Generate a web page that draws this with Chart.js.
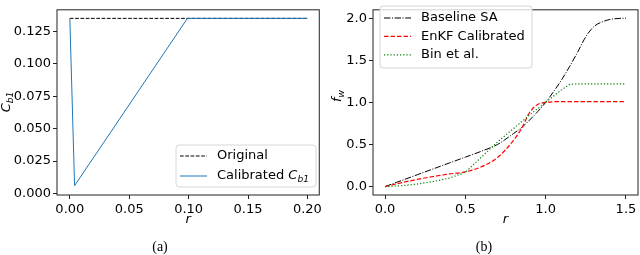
<!DOCTYPE html>
<html>
<head>
<meta charset="utf-8">
<script src="https://cdn.jsdelivr.net/npm/chart.js@4.4.0/dist/chart.umd.min.js"></script>
<style>
  body { margin: 0; background: #fff; width: 640px; height: 255px; overflow: hidden; position: relative; }
  canvas { position: absolute; top: 0; }
  .cap { position: absolute; top: 239px; width: 40px; text-align: center; font: 14px "Liberation Serif", serif; color: #000; }
</style>
</head>
<body>
<canvas id="chartA" width="325" height="255" style="left:0"></canvas>
<canvas id="chartB" width="315" height="255" style="left:325px"></canvas>
<div class="cap" style="left:140px">(a)</div>
<div class="cap" style="left:464px">(b)</div>
<script>
// (a) C_b1 against r
const rOriginal = [0, 0.2];
const cb1Original = [0.135, 0.135];
const rCalibrated = [0, 0.004, 0.099, 0.2];
const cb1Calibrated = [0.135, 0.006, 0.135, 0.135];
const ticksAx = [0, 0.05, 0.1, 0.15, 0.2];
const ticksAy = [0, 0.025, 0.05, 0.075, 0.1, 0.125];

// (b) f_w against r
const rB = [0, 0.1, 0.2, 0.3, 0.4, 0.5, 0.6, 0.7, 0.8, 0.85, 0.9, 0.95, 1.0, 1.05, 1.1, 1.15, 1.2, 1.25, 1.3, 1.35, 1.4, 1.45, 1.5];
const fwBaseline = [0, 0.07, 0.14, 0.21, 0.28, 0.35, 0.42, 0.5, 0.63, 0.7, 0.79, 0.89, 1.0, 1.13, 1.27, 1.43, 1.6, 1.78, 1.9, 1.955, 1.985, 1.997, 2.0];
const fwEnKF = [0, 0.045, 0.085, 0.12, 0.15, 0.175, 0.235, 0.345, 0.55, 0.69, 0.88, 0.975, 1.0, 1.008, 1.01, 1.01, 1.01, 1.01, 1.01, 1.01, 1.01, 1.01, 1.01];
const fwBin = [0, 0.01, 0.03, 0.06, 0.1, 0.17, 0.35, 0.53, 0.69, 0.77, 0.85, 0.925, 1.0, 1.075, 1.15, 1.215, 1.22, 1.22, 1.22, 1.22, 1.22, 1.22, 1.22];
const ticksBx = [0, 0.5, 1.0, 1.5];
const ticksBy = [0, 0.5, 1.0, 1.5, 2.0];

const FONT = '"DejaVu Sans", sans-serif';
const pts = (xs, ys) => xs.map((x, i) => ({ x: x, y: ys[i] }));

function richWidth(ctx, parts, size) {
  let w = 0;
  for (const p of parts) {
    ctx.font = (p.it ? 'italic ' : '') + (p.sub ? size * 0.7 : size) + 'px ' + FONT;
    w += ctx.measureText(p.t).width;
  }
  return w;
}

function richText(ctx, parts, x, y, size) {
  let cx = x;
  ctx.textBaseline = 'middle';
  ctx.textAlign = 'left';
  for (const p of parts) {
    ctx.font = (p.it ? 'italic ' : '') + (p.sub ? size * 0.7 : size) + 'px ' + FONT;
    ctx.fillText(p.t, cx, y + (p.sub ? size * 0.28 : 0));
    cx += ctx.measureText(p.t).width;
  }
}

const decor = {
  id: 'decor',
  afterDraw(chart, args, o) {
    const { ctx, chartArea: a } = chart;
    ctx.save();
    ctx.strokeStyle = '#222';
    ctx.lineWidth = 1;
    ctx.strokeRect(a.left, a.top, a.right - a.left, a.bottom - a.top);
    ctx.fillStyle = '#000';

    // rotated y title
    const t = o.yTitle;
    ctx.save();
    ctx.translate(t.x, t.y);
    ctx.rotate(-Math.PI / 2);
    richText(ctx, t.parts, -richWidth(ctx, t.parts, 13) / 2, 0, 13);
    ctx.restore();

    // legend
    const L = o.legend;
    ctx.beginPath();
    ctx.roundRect(L.x, L.y, L.w, L.h, 3);
    ctx.fillStyle = 'rgba(255,255,255,0.8)';
    ctx.fill();
    ctx.strokeStyle = '#d6d6d6';
    ctx.lineWidth = 1;
    ctx.stroke();
    L.items.forEach((it, i) => {
      const ds = chart.data.datasets[it.ds];
      const yy = L.y + L.first + i * L.row;
      ctx.save();
      ctx.strokeStyle = ds.borderColor;
      ctx.lineWidth = ds.borderWidth;
      ctx.setLineDash(ds.borderDash || []);
      ctx.beginPath();
      ctx.moveTo(L.x + 4, yy);
      ctx.lineTo(L.x + 31, yy);
      ctx.stroke();
      ctx.restore();
      ctx.fillStyle = '#000';
      richText(ctx, it.parts, L.x + 41, yy, 13);
    });
    ctx.restore();
  }
};

function axis(min, max, ticks, digits, fixSize, horizontal, title) {
  const s = {
    type: 'linear',
    min: min,
    max: max,
    afterBuildTicks: sc => { sc.ticks = ticks.map(v => ({ value: v })); },
    afterFit: sc => { if (horizontal) sc.height = fixSize; else sc.width = fixSize; },
    grid: { display: true, drawOnChartArea: false, drawTicks: true, tickLength: 4, color: '#222' },
    border: { display: false },
    ticks: {
      color: '#000',
      padding: horizontal ? 3 : 2,
      maxRotation: 0,
      autoSkip: false,
      font: { family: FONT, size: 13 },
      callback: v => v.toFixed(digits)
    }
  };
  if (title) {
    s.title = { display: true, text: title, color: '#000', font: { family: FONT, size: 13, style: 'italic' }, padding: { top: 0, bottom: 28 } };
  }
  return s;
}

const baseOpts = {
  responsive: false,
  animation: false,
  events: [],
  elements: { point: { radius: 0 }, line: { fill: false } },
  plugins: { legend: { display: false }, tooltip: { enabled: false } }
};

new Chart(document.getElementById('chartA'), {
  type: 'line',
  data: {
    datasets: [
      { label: 'Original', data: pts(rOriginal, cb1Original), borderColor: '#000', borderWidth: 1, borderDash: [3.7, 1.6], order: 1, tension: 0 },
      { label: 'Calibrated Cb1', data: pts(rCalibrated, cb1Calibrated), borderColor: '#1f77b4', borderWidth: 1, order: 0, tension: 0 }
    ]
  },
  options: Object.assign({}, baseOpts, {
    layout: { padding: { left: 0, top: 1, right: 3, bottom: 0 } },
    scales: {
      x: axis(-0.0108, 0.21, ticksAx, 2, 60, true, 'r'),
      y: axis(-0.0012, 0.1416, ticksAy, 3, 57, false)
    },
    plugins: Object.assign({}, baseOpts.plugins, {
      decor: {
        yTitle: { x: 7, y: 102, parts: [{ t: 'C', it: true }, { t: 'b1', it: true, sub: true }] },
        legend: {
          x: 176, y: 145, w: 140, h: 42, first: 11, row: 20,
          items: [
            { ds: 0, parts: [{ t: 'Original' }] },
            { ds: 1, parts: [{ t: 'Calibrated ' }, { t: 'C', it: true }, { t: 'b1', it: true, sub: true }] }
          ]
        }
      }
    })
  }),
  plugins: [decor]
});

new Chart(document.getElementById('chartB'), {
  type: 'line',
  data: {
    datasets: [
      { label: 'Baseline SA', data: pts(rB, fwBaseline), borderColor: '#000', borderWidth: 1, borderDash: [6.4, 1.6, 1, 1.6], order: 2, cubicInterpolationMode: 'monotone' },
      { label: 'EnKF Calibrated', data: pts(rB, fwEnKF), borderColor: '#ff0000', borderWidth: 1.2, borderDash: [4.5, 2], order: 1, cubicInterpolationMode: 'monotone' },
      { label: 'Bin et al.', data: pts(rB, fwBin), borderColor: '#008000', borderWidth: 1.2, borderDash: [1.2, 2], order: 0, tension: 0 }
    ]
  },
  options: Object.assign({}, baseOpts, {
    layout: { padding: { left: 0, top: 1, right: 2, bottom: 0 } },
    scales: {
      x: axis(-0.075, 1.575, ticksBx, 1, 60, true, 'r'),
      y: axis(-0.1, 2.1, ticksBy, 1, 48, false)
    },
    plugins: Object.assign({}, baseOpts.plugins, {
      decor: {
        yTitle: { x: 13, y: 96, parts: [{ t: 'f', it: true }, { t: 'w', it: true, sub: true }] },
        legend: {
          x: 55, y: 6, w: 152, h: 62, first: 12, row: 18.4,
          items: [
            { ds: 0, parts: [{ t: 'Baseline SA' }] },
            { ds: 1, parts: [{ t: 'EnKF Calibrated' }] },
            { ds: 2, parts: [{ t: 'Bin et al.' }] }
          ]
        }
      }
    })
  }),
  plugins: [decor]
});
</script>
</body>
</html>
